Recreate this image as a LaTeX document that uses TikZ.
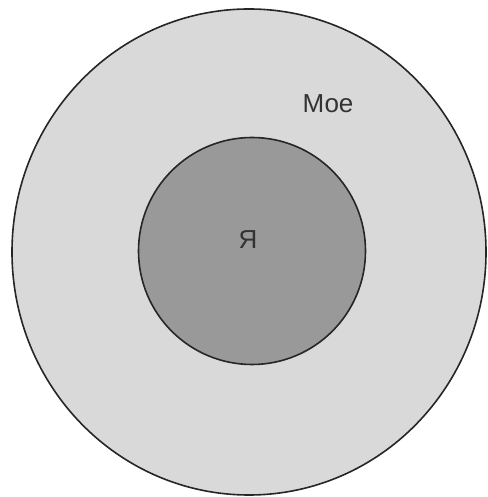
\documentclass[tikz,border=0pt]{standalone}
\usepackage{fontspec}
\setmainfont{Liberation Sans}
\usetikzlibrary{positioning,shapes.geometric}

\begin{document}
\begin{tikzpicture}[
  x=1pt, y=1pt,
  every node/.style={font=\fontsize{26}{30}\selectfont, text=black!80},
  ring/.style={draw=black!85, line width=1.6pt, inner sep=0pt},
  outer/.style={ring, ellipse, fill=black!15, minimum width=474pt, minimum height=486pt},
  inner/.style={ring, circle, fill=black!40, minimum size=227pt},
  lbl/.style={inner sep=0pt},
]
\useasboundingbox (0,0) rectangle (487,497);

% Two nested circles
\node[outer] (moe) at (249,245) {};
\node[inner] (ya) at (252,246) {};

% Labels
\node[lbl] (moelbl) at (328,393) {Мое};
\node[lbl] (yalbl) at (248,257) {Я};

\end{tikzpicture}
\end{document}
